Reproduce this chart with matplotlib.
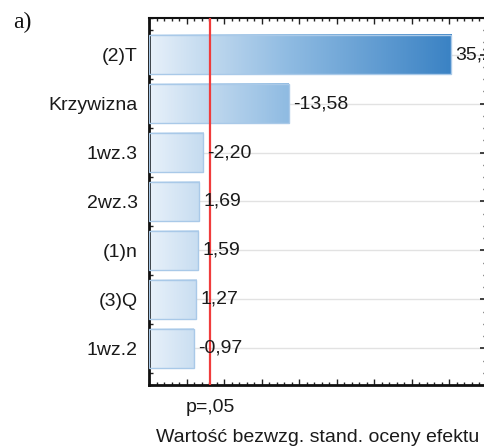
import numpy as np
import matplotlib
matplotlib.use('Agg')
import matplotlib.pyplot as plt
from matplotlib.colors import LinearSegmentedColormap
from matplotlib.ticker import MultipleLocator, NullFormatter
from matplotlib.transforms import blended_transform_factory

# Pareto chart of standardized effects
factors = ['(2)T', 'Krzywizna', '1wz.3', '2wz.3', '(1)n', '(3)Q', '1wz.2']
effects = [35.21, -13.58, -2.20, 1.69, 1.59, 1.27, -0.97]
p_crit = 3.182
p_label = 'p=,05'
x_label = 'Wartość bezwzg. stand. oceny efektu'

X_MIN, X_MAX = -5, 40
FONT = 'Liberation Sans'

fig = plt.figure(figsize=(4.85, 4.47), dpi=100)
ax = fig.add_axes([149 / 485, 62 / 447, 338 / 485, 367 / 447])

cmap = LinearSegmentedColormap.from_list(
    'bluegrad', [(0.0, '#e8f1fa'), (0.17, '#c6dcf0'), (0.46, '#8fbbe2'), (1.0, '#3a82c4')])
vmax = max(abs(v) for v in effects)
bar_h = 0.8

for i, (name, v) in enumerate(zip(factors, effects)):
    a = abs(v)
    xs = np.linspace(X_MIN, a, 256)
    grad = ((xs - X_MIN) / (vmax - X_MIN))[np.newaxis, :]
    ax.imshow(grad, cmap=cmap, vmin=0, vmax=1, aspect='auto',
              extent=(X_MIN, a, i + bar_h / 2, i - bar_h / 2), zorder=2)
    ax.barh(i, a - X_MIN, left=X_MIN, height=bar_h, facecolor='none',
            edgecolor='#a9c9e8', linewidth=1.0, zorder=3)
    ax.annotate(f'{v:.2f}'.replace('.', ','), xy=(a, i), xytext=(3, 0),
                textcoords='offset points', va='center', ha='left',
                fontsize=14, family=FONT, color='#1a1a1a', zorder=5)

# horizontal grid at categories
for i in range(len(factors)):
    ax.axhline(i, color='#e2e2e2', lw=1.0, zorder=1)

ax.axvline(p_crit, color='#f03c3c', lw=1.6, zorder=4)

ax.set_xlim(X_MIN, X_MAX)
ax.set_ylim(len(factors) - 0.25, -0.75)

ax.set_yticks(range(len(factors)))
ax.set_yticklabels(factors, fontsize=14, family=FONT, color='#1a1a1a')
ax.yaxis.set_minor_locator(MultipleLocator(0.25))
ax.xaxis.set_major_locator(MultipleLocator(5))
ax.xaxis.set_minor_locator(MultipleLocator(1))
ax.xaxis.set_major_formatter(NullFormatter())

ax.tick_params(axis='both', which='both', direction='in', top=True, right=True,
               color='#222222')
ax.tick_params(axis='x', which='major', length=4, width=1)
ax.tick_params(axis='x', which='minor', length=2, width=1)
ax.tick_params(axis='y', which='major', length=5, width=1.2, pad=8)
ax.tick_params(axis='y', which='minor', length=3, width=1)

for s in ax.spines.values():
    s.set_color('#111111')
    s.set_linewidth(1.5)
ax.spines['left'].set_linewidth(2)
ax.spines['bottom'].set_linewidth(2)

trans = blended_transform_factory(ax.transData, fig.transFigure)
ax.text(p_crit, 1 - 407 / 447, p_label, transform=trans, ha='center',
        va='center', fontsize=14, family=FONT, color='#1a1a1a')
fig.text(318 / 485, 1 - 438 / 447, x_label, ha='center', va='center',
         fontsize=14, family=FONT, color='#1a1a1a')
fig.text(13 / 485, 1 - 22 / 447, 'a)', ha='left', va='center',
         fontsize=17, family='Liberation Serif', color='#111111')

fig.savefig('out.png', dpi=100)
